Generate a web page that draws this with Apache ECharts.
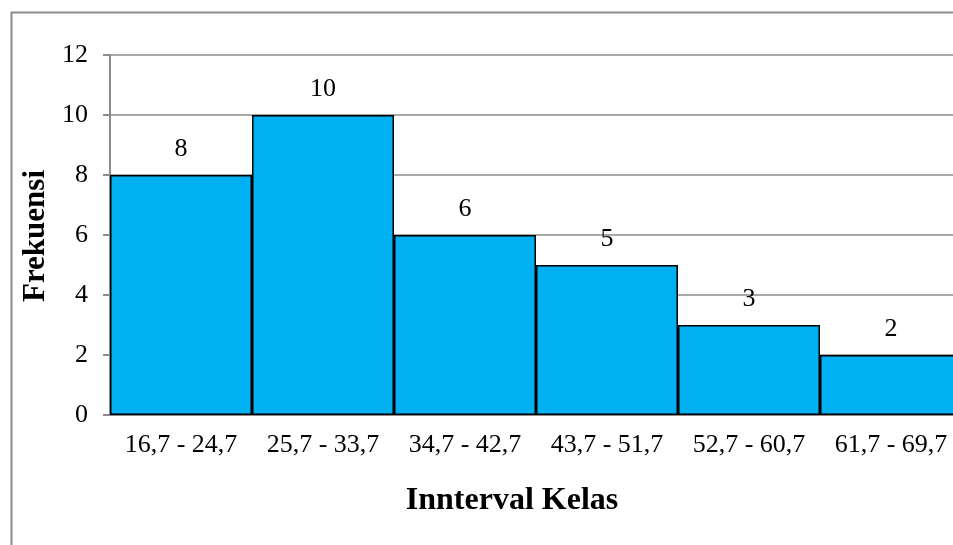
<!DOCTYPE html>
<html>
<head>
<meta charset="utf-8">
<script src="https://cdn.jsdelivr.net/npm/echarts@6/dist/echarts.min.js"></script>
<style>
html,body{margin:0;padding:0;background:#fff;}
#c{width:953px;height:545px;}
</style>
</head>
<body>
<div id="c"></div>
<script>
const categories = ['16,7 - 24,7','25,7 - 33,7','34,7 - 42,7','43,7 - 51,7','52,7 - 60,7','61,7 - 69,7'];
const frekuensi = [8, 10, 6, 5, 3, 2];
const yTicks = [0, 2, 4, 6, 8, 10, 12];

const font = 'Liberation Serif';
const chart = echarts.init(document.getElementById('c'));
chart.setOption({
  animation: false,
  backgroundColor: '#fff',
  graphic: [
    { type: 'rect', shape: { x: 11.5, y: 12.5, width: 1000, height: 600 }, style: { fill: 'none', stroke: '#8c8c8c', lineWidth: 2 }, z: -1 },
    { type: 'text', x: 512, y: 501, style: { text: 'Innterval Kelas', font: 'bold 32px "Liberation Serif"', fill: '#000', align: 'center', verticalAlign: 'middle' } },
    { type: 'text', x: 36, y: 236, rotation: Math.PI / 2, style: { text: 'Frekuensi', font: 'bold 31px "Liberation Serif"', fill: '#000', align: 'center', verticalAlign: 'middle' } }
  ],
  grid: { left: 110, top: 55, width: 852, height: 360, containLabel: false, outerBoundsMode: 'none' },
  xAxis: {
    type: 'category',
    data: categories,
    axisLine: { lineStyle: { color: '#8c8c8c', width: 2 } },
    axisTick: { show: false },
    axisLabel: { color: '#000', fontFamily: font, fontSize: 26, margin: 17, interval: 0 }
  },
  yAxis: {
    type: 'value',
    min: 0, max: 12, interval: 2,
    axisLine: { show: true, lineStyle: { color: '#8c8c8c', width: 2 } },
    axisTick: { show: true, length: 7, lineStyle: { color: '#8c8c8c', width: 2 } },
    splitLine: { lineStyle: { color: '#8c8c8c', width: 1.5 } },
    axisLabel: { color: '#000', fontFamily: font, fontSize: 26, margin: 22,
      formatter: v => yTicks.includes(v) ? String(v) : '' }
  },
  series: [{
    type: 'bar',
    data: frekuensi,
    barCategoryGap: '0%',
    itemStyle: { color: '#00B0F0', borderColor: '#000', borderWidth: 1.5 },
    label: { show: true, position: 'top', distance: 13, color: '#000', fontFamily: font, fontSize: 26 }
  }]
});
</script>
</body>
</html>
